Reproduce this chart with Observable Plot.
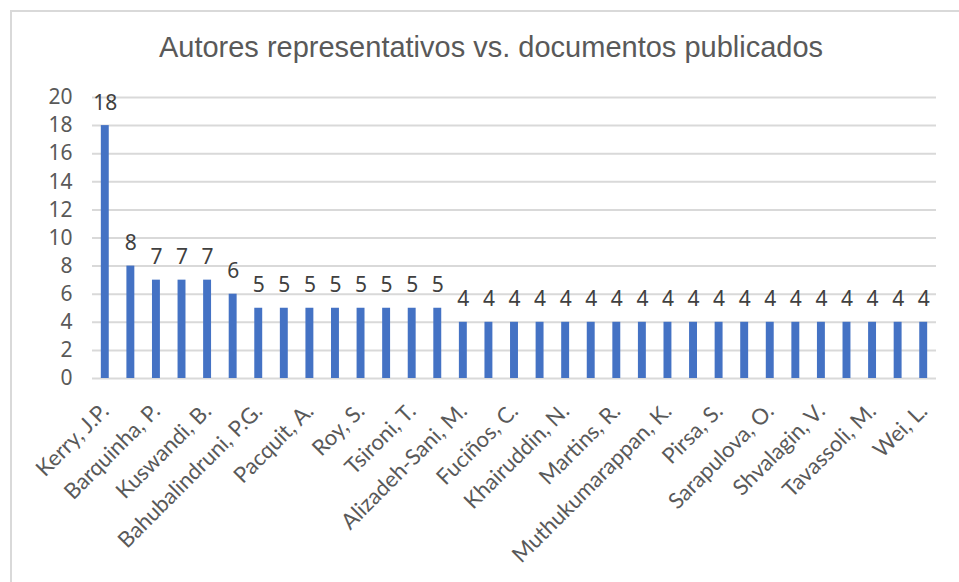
<!DOCTYPE html>
<html>
<head>
<meta charset="utf-8">
<script src="https://cdn.jsdelivr.net/npm/d3@7"></script>
<script src="https://cdn.jsdelivr.net/npm/@observablehq/plot@0.6"></script>
<style>
  html, body { margin: 0; padding: 0; background: #fff; width: 959px; height: 582px; overflow: hidden; }
  #frame { position: absolute; left: 10px; top: 10px; width: 1000px; height: 650px;
           border-left: 2px solid #d9d9d9; border-top: 2px solid #d9d9d9; box-sizing: border-box; }
  #title { position: absolute; left: 0; width: 982px; top: 31px; text-align: center;
           font-family: "Liberation Sans", Arial, sans-serif; font-size: 29px; color: #595959; }
  #chart { position: absolute; left: 0; top: 80px; }
</style>
</head>
<body>
<div id="frame"></div>
<div id="title">Autores representativos vs. documentos publicados</div>
<div id="chart"></div>
<script>
// Visible category labels (every other author is shown on the axis)
const autoresVisibles = ["Kerry, J.P.", "Barquinha, P.", "Kuswandi, B.", "Bahubalindruni, P.G.", "Pacquit, A.",
  "Roy, S.", "Tsironi, T.", "Alizadeh-Sani, M.", "Fuciños, C.", "Khairuddin, N.", "Martins, R.",
  "Muthukumarappan, K.", "Pirsa, S.", "Sarapulova, O.", "Shvalagin, V.", "Tavassoli, M.", "Wei, L."];
// Documents per author (33 bars)
const documentos = [18, 8, 7, 7, 7, 6, 5, 5, 5, 5, 5, 5, 5, 5,
  4, 4, 4, 4, 4, 4, 4, 4, 4, 4, 4, 4, 4, 4, 4, 4, 4, 4, 4];
const yTicks = [0, 2, 4, 6, 8, 10, 12, 14, 16, 18, 20];

const data = documentos.map((v, i) => ({i, v}));
const idx = d3.range(documentos.length);
const labelFor = i => (i % 2 === 0 ? autoresVisibles[i / 2] : "");

const plot = Plot.plot({
  width: 959,
  height: 500,
  marginLeft: 92,
  marginRight: 23,
  marginTop: 17,
  marginBottom: 202,
  style: {fontFamily: "'Noto Sans', sans-serif", color: "#595959", background: "transparent"},
  x: {type: "band", domain: idx, paddingInner: 0.69, paddingOuter: 0.345, round: false},
  y: {domain: [0, 20]},
  marks: [
    Plot.gridY(yTicks, {stroke: "#d9d9d9", strokeOpacity: 1, strokeWidth: 2}),
    Plot.barY(data, {x: "i", y: "v", fill: "#4472c4"}),
    Plot.text(data, {x: "i", y: "v", text: d => String(d.v), lineAnchor: "bottom", dy: -16,
      fontSize: 21, fill: "#404040"}),
    Plot.axisY(yTicks, {tickSize: 0, tickPadding: 20, fontSize: 21, label: null, fill: "#595959"}),
    Plot.axisX(idx, {tickSize: 0, tickRotate: -45, tickPadding: 29, tickFormat: labelFor, label: null,
      fontSize: 22, fontFamily: "Lato, sans-serif", fill: "#595959"})
  ]
});
document.getElementById("chart").appendChild(plot);
</script>
</body>
</html>
